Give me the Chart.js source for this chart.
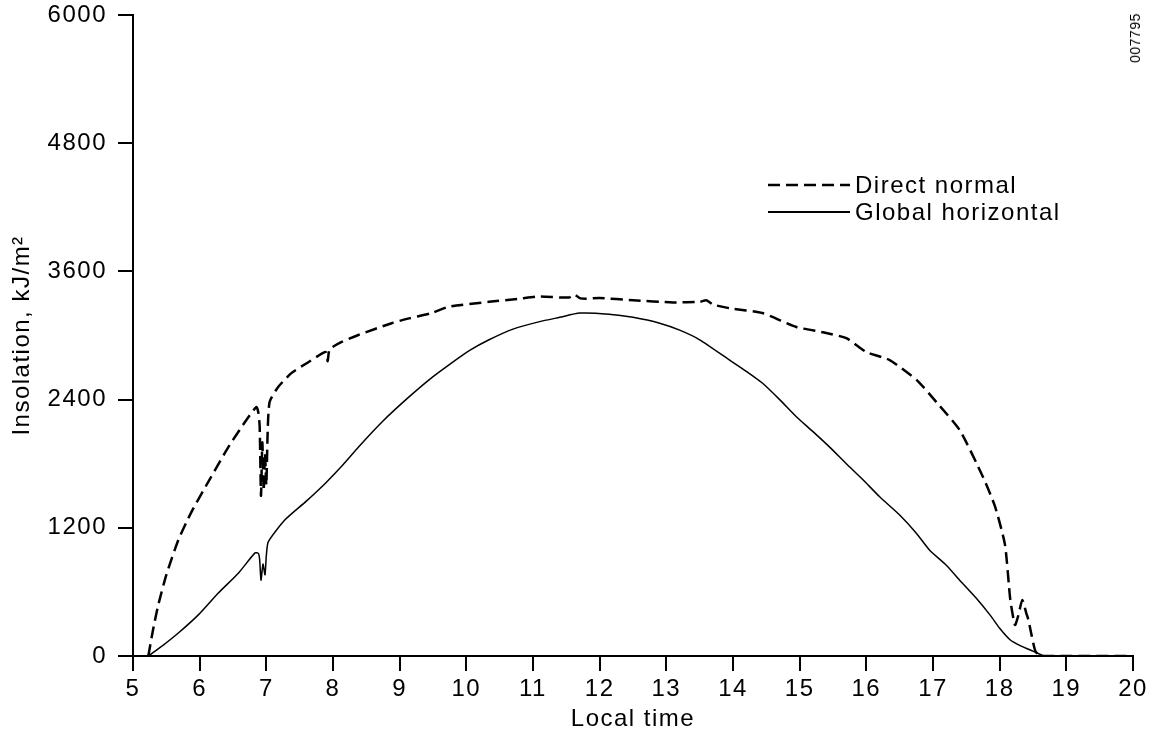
<!DOCTYPE html>
<html>
<head>
<meta charset="utf-8">
<script src="https://cdn.jsdelivr.net/npm/chart.js@4"></script>
<style>
  html, body { margin: 0; padding: 0; background: #fff; }
  #wrap { position: relative; width: 1159px; height: 734px; }
  #code {
    position: absolute; left: 1135px; top: 38px;
    transform: translate(-50%, -50%) rotate(-90deg);
    font: 14px "Liberation Sans", Arial, sans-serif; color: #000; letter-spacing: 0.5px;
  }
</style>
</head>
<body>
<div id="wrap">
  <canvas id="chart" width="1159" height="734"></canvas>
  <div id="code">007795</div>
</div>
<script>
// Insolation over one day
const xTicks = [5, 6, 7, 8, 9, 10, 11, 12, 13, 14, 15, 16, 17, 18, 19, 20];
const yTicks = [0, 1200, 2400, 3600, 4800, 6000];

const directTimes = [5.23, 5.3, 5.38, 5.5, 5.68, 5.87, 6.17, 6.43, 6.68, 6.85, 6.88, 6.9, 6.92, 6.94, 6.96, 6.98, 7.0, 7.02, 7.05,
  7.18, 7.38, 7.63, 7.89, 7.92, 7.95, 8.13, 8.38, 8.88, 9.14, 9.48, 9.74, 10.34, 10.8, 11.09, 11.54, 11.62, 11.7, 11.8, 12.0, 12.5,
  13.1, 13.5, 13.6, 13.7, 13.95, 14.44, 14.95, 15.35, 15.7, 16.0, 16.35, 16.76, 17.06, 17.4, 17.75, 17.93, 18.08, 18.16, 18.23,
  18.28, 18.34, 18.4, 18.43, 18.53, 18.6, 19, 20];
const directValues = [0, 243, 480, 760, 1085, 1340, 1675, 1955, 2190, 2330, 2280, 2150, 1500, 2000, 1550, 1900, 1600, 2100, 2380,
  2520, 2650, 2750, 2845, 2760, 2870, 2940, 3005, 3115, 3160, 3210, 3270, 3315, 3345, 3365, 3355, 3385, 3350, 3345, 3350, 3330,
  3310, 3315, 3330, 3290, 3255, 3210, 3080, 3030, 2975, 2845, 2770, 2580, 2370, 2115, 1675, 1400, 1040, 525, 290,
  380, 525, 400, 340, 56, 0, 0, 0];

const globalTimes = [5.23, 5.45, 5.68, 5.98, 6.28, 6.58, 6.83, 6.88, 6.9, 6.92, 6.95, 6.98, 7.0, 7.03, 7.28, 7.6, 7.89,
  8.15, 8.38, 8.75, 9.14, 9.45, 9.74, 10.05, 10.34, 10.7, 11.1, 11.4, 11.7, 12.14, 12.5, 12.9, 13.2, 13.5, 13.95, 14.2, 14.44,
  14.7, 14.95, 15.2, 15.45, 15.7, 15.95, 16.2, 16.5, 16.75, 16.95, 17.2, 17.4, 17.65, 17.86, 18.0, 18.16, 18.3, 18.46, 18.68, 19, 20];
const globalValues = [0, 100, 215, 385, 590, 775, 965, 960, 900, 710, 860, 760, 940, 1070, 1275, 1450, 1620,
  1790, 1955, 2200, 2425, 2590, 2725, 2860, 2960, 3060, 3130, 3170, 3210, 3200, 3170, 3115, 3050, 2960, 2770, 2665, 2555,
  2400, 2240, 2100, 1955, 1800, 1650, 1490, 1320, 1150, 990, 850, 710, 540, 380, 260, 150, 100, 56, 0, 0, 0];

const seriesNames = ['Direct normal', 'Global horizontal'];

const FONT = '"Liberation Sans", Arial, sans-serif';

function points(xs, ys) {
  return xs.map((x, i) => ({ x: x, y: ys[i] }));
}

// the printed lettering is spaced a little wider than Arial
const spacing = {
  id: 'spacing',
  beforeLayout(chart) { chart.ctx.letterSpacing = '1.5px'; },
  beforeDraw(chart) { chart.ctx.letterSpacing = '1.5px'; }
};

// legend drawn inside the plot, like the printed figure
const insideLegend = {
  id: 'insideLegend',
  afterDraw(chart) {
    const ctx = chart.ctx;
    const a = chart.chartArea;
    const x0 = a.left + 635;
    const rows = [a.top + 170, a.top + 197];
    ctx.save();
    ctx.strokeStyle = '#000';
    ctx.fillStyle = '#000';
    ctx.font = '24px ' + FONT;
    ctx.textBaseline = 'middle';
    chart.data.datasets.forEach((ds, i) => {
      ctx.lineWidth = i === 0 ? 2.5 : 2;
      ctx.setLineDash(ds.borderDash || []);
      ctx.beginPath();
      ctx.moveTo(x0, rows[i]);
      ctx.lineTo(x0 + 82, rows[i]);
      ctx.stroke();
      ctx.setLineDash([]);
      ctx.fillText(ds.label, x0 + 87, rows[i] + 1);
    });
    ctx.restore();
  }
};

window.addEventListener('DOMContentLoaded', () => {
  renderInsolationChart();
});

function renderInsolationChart() {
  new Chart(document.getElementById('chart'), {
    type: 'line',
    data: {
      datasets: [{
        label: seriesNames[0],
        data: points(directTimes, directValues),
        borderColor: '#000',
        borderWidth: 2.5,
        borderDash: [12, 6],
        pointRadius: 0,
        tension: 0.2
      }, {
        label: seriesNames[1],
        data: points(globalTimes, globalValues),
        borderColor: '#000',
        borderWidth: 1.5,
        pointRadius: 0,
        tension: 0.2
      }]
    },
    options: {
      responsive: false,
      animation: false,
      layout: { padding: { top: 15, right: 26, left: 0, bottom: 0 } },
      plugins: {
        legend: { display: false },
        tooltip: { enabled: false }
      },
      scales: {
        x: {
          type: 'linear',
          min: 5,
          max: 20,
          afterBuildTicks: s => { s.ticks = xTicks.map(v => ({ value: v })); },
          afterFit: s => { s.height = 78; },
          grid: { drawOnChartArea: false, drawTicks: true, tickLength: 15, color: '#000', lineWidth: 2 },
          border: { display: true, color: '#000', width: 2 },
          ticks: { color: '#000', padding: 4, maxRotation: 0, callback: v => String(v), font: { size: 24, family: FONT } },
          title: { display: true, text: 'Local time', color: '#000', padding: { top: 0, bottom: 0 }, font: { size: 24, family: FONT } }
        },
        y: {
          min: 0,
          max: 6000,
          afterBuildTicks: s => { s.ticks = yTicks.map(v => ({ value: v })); },
          afterFit: s => { s.width = 133; s.paddingTop = 0; s.paddingBottom = 0; },
          grid: { drawOnChartArea: false, drawTicks: true, tickLength: 15, color: '#000', lineWidth: 2 },
          border: { display: true, color: '#000', width: 2 },
          ticks: { color: '#000', padding: 11, callback: v => String(v), font: { size: 24, family: FONT } },
          title: { display: true, text: 'Insolation, kJ/m²', color: '#000', padding: { top: 8, bottom: 0 }, font: { size: 24, family: FONT } }
        }
      }
    },
    plugins: [spacing, insideLegend]
  });
}
</script>
</body>
</html>
